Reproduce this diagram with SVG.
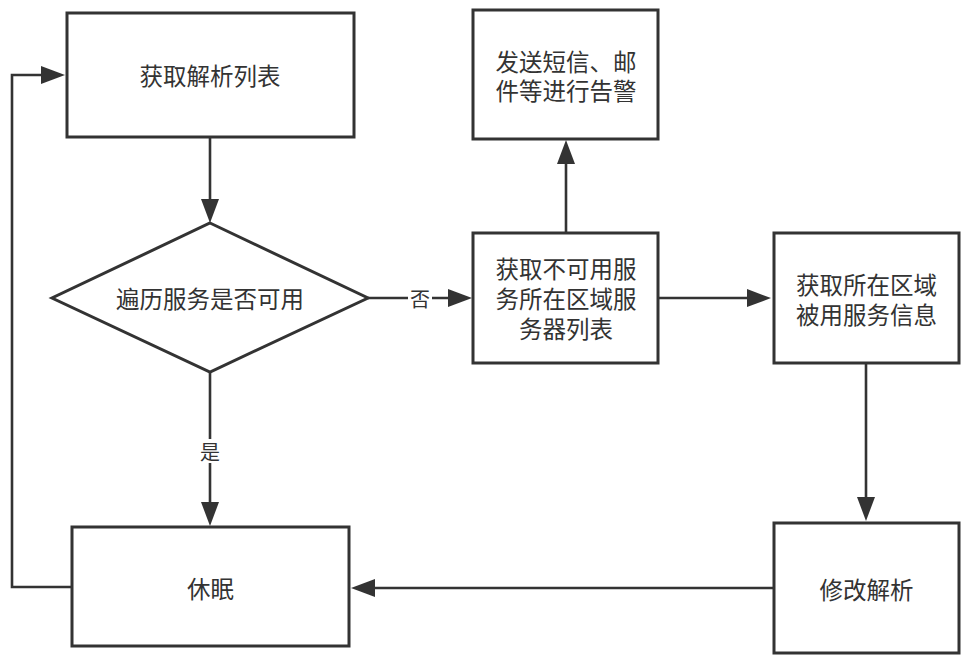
<svg xmlns="http://www.w3.org/2000/svg" width="969" height="662" viewBox="0 0 969 662">
<defs>
<style>
.box{fill:#fff;stroke:#333;stroke-width:3}
.t{font-family:"Noto Sans CJK SC","Noto Sans",sans-serif;font-size:23.5px;fill:#333;text-anchor:middle;dominant-baseline:central}
.lbl{font-family:"Noto Sans CJK SC","Noto Sans",sans-serif;font-size:20px;fill:#333;text-anchor:middle;dominant-baseline:central}
.c{fill:none;stroke:#333;stroke-width:2.6;marker-end:url(#arr)}
.cn{fill:none;stroke:#333;stroke-width:2.6}
</style>
<marker id="arr" viewBox="0 0 24 18" refX="14" refY="9" markerWidth="24" markerHeight="18" markerUnits="userSpaceOnUse" orient="auto">
<path d="M0,0 L24,9 L0,18 z" fill="#333"/>
</marker>
</defs>
<rect width="969" height="662" fill="#fff"/>
<g id="connectors">
<path class="c" d="M210,137 V213"/>
<path class="c" d="M210,372 V516"/>
<path class="c" d="M368,298 H462"/>
<path class="c" d="M566,233 V150"/>
<path class="c" d="M658,298 H761"/>
<path class="c" d="M866,363 V511"/>
<path class="c" d="M774,588 H361"/>
<path class="c" d="M72,587 H12 V75 H55"/>
<rect x="198" y="439" width="24" height="24" fill="#fff"/>
<text class="lbl" x="210" y="451">是</text>
<rect x="408" y="286" width="24" height="24" fill="#fff"/>
<text class="lbl" x="420" y="298">否</text>
</g>
<g id="n1">
<rect class="box" x="67" y="13" width="287" height="124"/>
<text class="t" x="210" y="75">获取解析列表</text>
</g>
<g id="n2">
<polygon class="box" points="210,223 368,298 210,372 52,298"/>
<text class="t" x="210" y="298">遍历服务是否可用</text>
</g>
<g id="n3">
<rect class="box" x="473" y="10" width="185" height="129"/>
<text class="t" x="566" y="61">发送短信、邮</text>
<text class="t" x="566" y="90">件等进行告警</text>
</g>
<g id="n4">
<rect class="box" x="473" y="233" width="185" height="130"/>
<text class="t" x="566" y="268">获取不可用服</text>
<text class="t" x="566" y="298">务所在区域服</text>
<text class="t" x="566" y="328">务器列表</text>
</g>
<g id="n5">
<rect class="box" x="774" y="233" width="185" height="130"/>
<text class="t" x="866.5" y="284">获取所在区域</text>
<text class="t" x="866.5" y="314">被用服务信息</text>
</g>
<g id="n6">
<rect class="box" x="72" y="527" width="277" height="119"/>
<text class="t" x="210.5" y="588">休眠</text>
</g>
<g id="n7">
<rect class="box" x="774" y="523" width="185" height="130"/>
<text class="t" x="866.5" y="589">修改解析</text>
</g>
</svg>
